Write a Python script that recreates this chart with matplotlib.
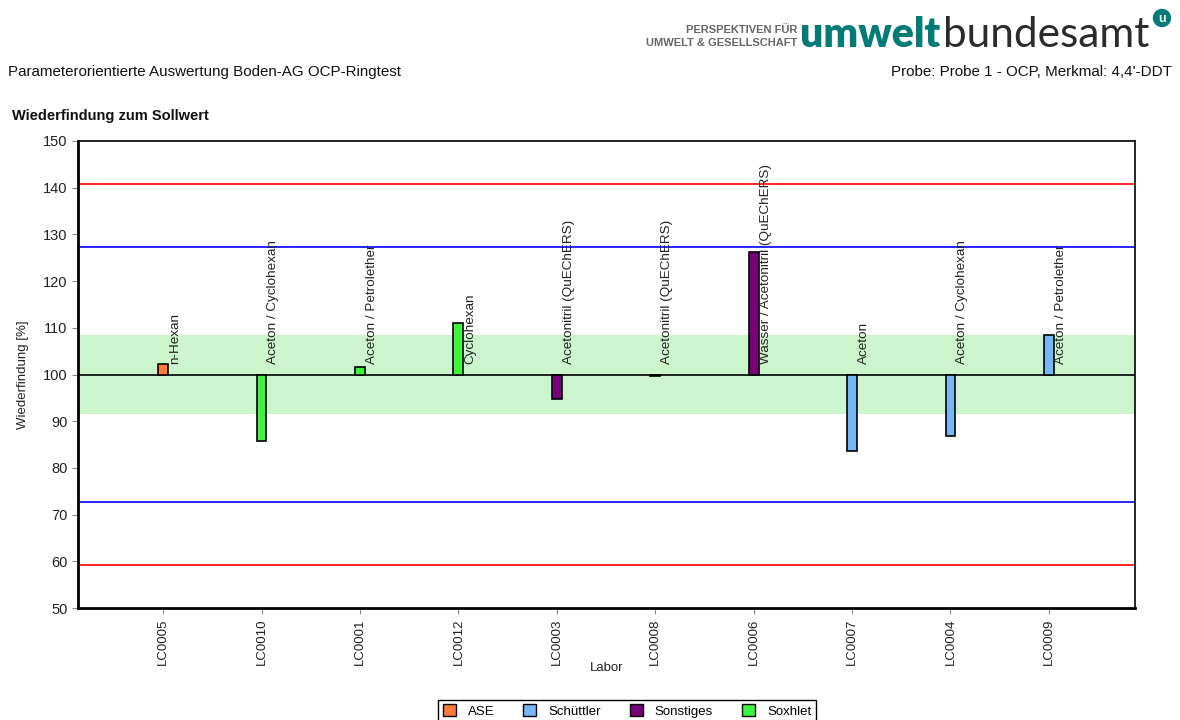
import matplotlib.pyplot as plt
from matplotlib.patches import Patch, Ellipse

plt.rcParams['font.family'] = ['Liberation Sans', 'DejaVu Sans']

# data
labs = ['LC0005', 'LC0010', 'LC0001', 'LC0012', 'LC0003',
        'LC0008', 'LC0006', 'LC0007', 'LC0004', 'LC0009']
values = [102.2, 85.8, 101.6, 111.0, 94.7, 99.6, 126.2, 83.6, 86.8, 108.5]
methods = ['ASE', 'Soxhlet', 'Soxhlet', 'Soxhlet', 'Sonstiges',
           'Sonstiges', 'Sonstiges', 'Schüttler', 'Schüttler', 'Schüttler']
solvents = ['n-Hexan', 'Aceton / Cyclohexan', 'Aceton / Petrolether', 'Cyclohexan',
            'Acetonitril (QuEChERS)', 'Acetonitril (QuEChERS)',
            'Wasser / Acetonitril (QuEChERS)', 'Aceton', 'Aceton / Cyclohexan',
            'Aceton / Petrolether']
method_names = ['ASE', 'Schüttler', 'Sonstiges', 'Soxhlet']
method_colors = ['#ff7b3a', '#74b8f6', '#780078', '#3cf53c']
sollwert = 100
band = (91.5, 108.5)
blue_lim = (72.8, 127.2)
red_lim = (59.2, 140.8)

cmap = dict(zip(method_names, method_colors))

fig = plt.figure(figsize=(11.8, 7.2), dpi=100)
ax = fig.add_axes([78/1180, 1-608/720, 1057/1180, 467/720])

ax.axhspan(band[0], band[1], color='#cdf5cd', lw=0, zorder=0)
for y in blue_lim:
    ax.axhline(y, color='#0000ff', lw=1.2, zorder=1)
for y in red_lim:
    ax.axhline(y, color='#ff0000', lw=1.2, zorder=1)
ax.axhline(sollwert, color='black', lw=1.2, zorder=2)

x = range(len(labs))
for i, v in enumerate(values):
    ax.bar(i, v - sollwert, bottom=sollwert, width=0.1, color=cmap[methods[i]],
           edgecolor='black', linewidth=1.2, zorder=3)
    ax.text(i + 0.06, 102.2, solvents[i], rotation=90, ha='left', va='bottom',
            fontsize=9.7, color='#222222', zorder=4)

ax.set_xlim(-0.865, 9.875)
ax.set_ylim(50, 150)
ax.set_yticks(range(50, 151, 10))
ax.set_xticks(list(x))
ax.set_xticklabels(labs, rotation=90, fontsize=9.5, color='#222222')
ax.tick_params(axis='y', labelsize=10.5, colors='#222222', length=4, color='#888888')
ax.tick_params(axis='x', length=4, color='#888888')
ax.set_xlabel('Labor', fontsize=9.5, labelpad=-2, color='#222222')
ax.set_ylabel('Wiederfindung [%]', fontsize=9.5, labelpad=10, color='#222222')
for side in ['left', 'bottom']:
    ax.spines[side].set_linewidth(2)
for side in ['top', 'right']:
    ax.spines[side].set_linewidth(1.2)

# header texts
fig.text(8/1180, 1-72/720, 'Parameterorientierte Auswertung Boden-AG OCP-Ringtest',
         fontsize=10.9, va='center', color='#111111')
fig.text(1172/1180, 1-72/720, "Probe: Probe 1 - OCP, Merkmal: 4,4'-DDT",
         fontsize=10.9, va='center', ha='right', color='#111111')
fig.text(12/1180, 1-116/720, 'Wiederfindung zum Sollwert', fontsize=10.5,
         fontweight='bold', va='center', color='#111111')

# logo
fig.text(797/1180, 1-30/720, 'PERSPEKTIVEN FÜR', fontsize=8, fontweight='bold',
         ha='right', va='center', color='#666666')
fig.text(797/1180, 1-43/720, 'UMWELT & GESELLSCHAFT', fontsize=8, fontweight='bold',
         ha='right', va='center', color='#666666')
t1 = fig.text(800/1180, 1-47/720, 'umwelt', fontsize=29.5, fontweight='heavy',
              family='Lato', color='#007b78', va='baseline')
fig.canvas.draw()
bb = t1.get_window_extent()
fig.text(bb.x1/1180 + 0.002, 1-47/720, 'bundesamt', fontsize=30.5, family='Lato',
         color='#2b2b2b', va='baseline')
fig.add_artist(Ellipse((1162/1180, 1-18/720), 17/1180, 17/720,
                       transform=fig.transFigure, color='#007b78'))
fig.text(1162/1180, 1-19/720, 'u', fontsize=9, fontweight='bold', color='white',
         ha='center', va='center')

handles = [Patch(facecolor=c, edgecolor='black', label=n)
           for n, c in zip(method_names, method_colors)]
fig.legend(handles=handles, ncol=4, loc='upper center',
           bbox_to_anchor=(627/1180, 1-693/720), fontsize=9.5, frameon=True,
           fancybox=False, edgecolor='black', framealpha=1, handlelength=1,
           handleheight=1, columnspacing=2.2, borderpad=0.35, handletextpad=0.9)

fig.savefig('out.png', dpi=100)
